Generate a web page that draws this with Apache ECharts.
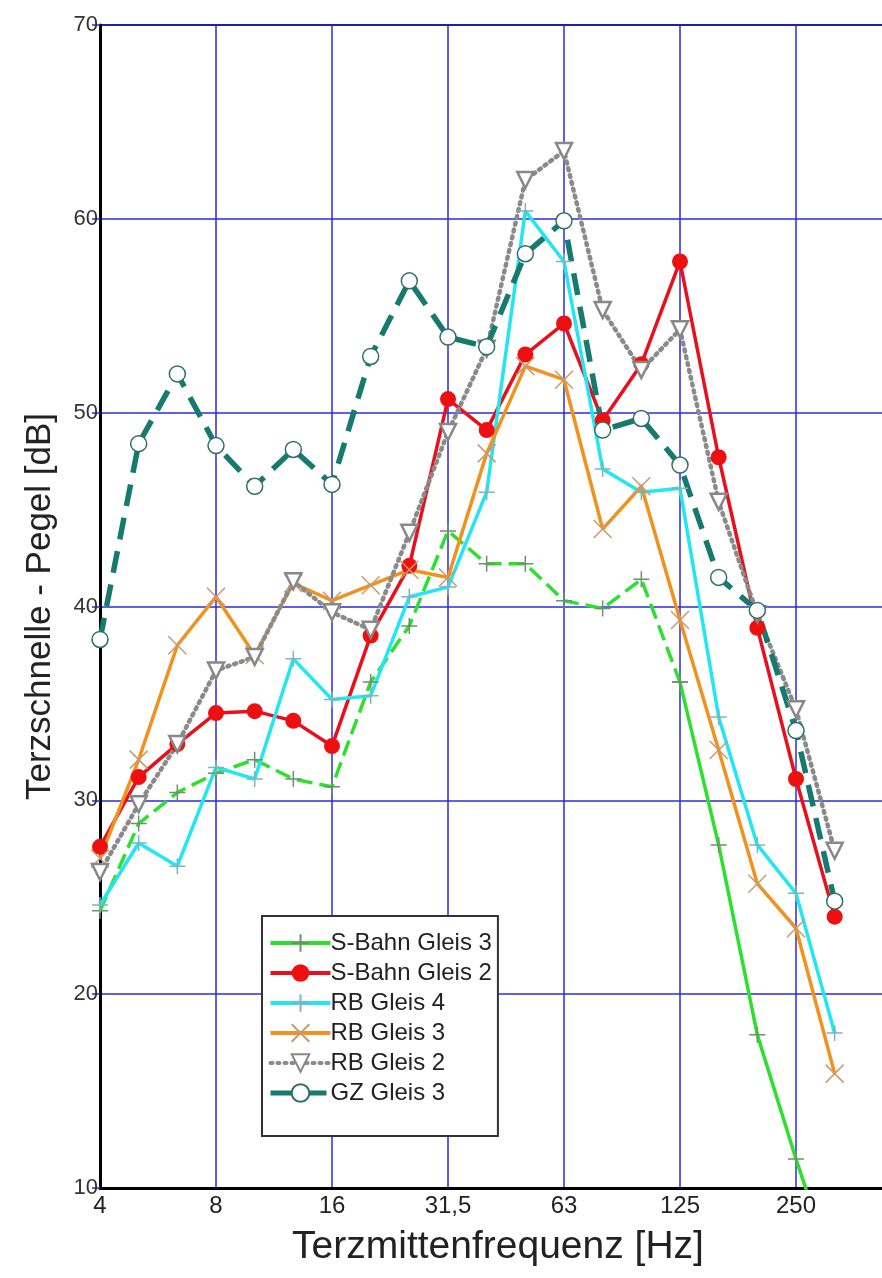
<!DOCTYPE html>
<html>
<head>
<meta charset="utf-8">
<script src="https://cdn.jsdelivr.net/npm/echarts@6/dist/echarts.min.js"></script>
<style>
  html, body { margin: 0; padding: 0; background: #fff; overflow: hidden; }
  /* the plot frame runs on past the right edge of the page */
  #chart { width: 940px; height: 1278px; }
</style>
</head>
<body>
<div id="chart"></div>
<script>
// Third-octave band centre frequencies (index 0 = 4 Hz)
const bands = ['4', '5', '6,3', '8', '10', '12,5', '16', '20', '25', '31,5',
               '40', '50', '63', '80', '100', '125', '160', '200', '250', '315'];
// Labelled octave ticks on the frequency axis (every third band)
const tickLabels = ['4', '8', '16', '31,5', '63', '125', '250'];

// Velocity levels per band [dB]
const sBahnGleis3 = [24.3, 28.8, 30.4, 31.4, 32.1, 31.1, 30.7, 36.1, 39.0, 43.9,
                     42.2, 42.2, 40.3, 39.9, 41.4, 36.1, 27.7, 17.9, 11.5, 5.5];
const sBahnGleis2 = [27.6, 31.2, 32.9, 34.5, 34.6, 34.1, 32.8, 38.5, 42.1, 50.7,
                     49.1, 53.0, 54.6, 49.6, 52.5, 57.8, 47.7, 38.9, 31.1, 24.0];
const rbGleis4    = [24.6, 27.8, 26.6, 31.7, 31.1, 37.3, 35.2, 35.4, 40.5, 41.0,
                     45.9, 60.4, 57.8, 47.1, 45.9, 46.1, 34.3, 27.7, 25.2, 18.0];
const rbGleis3    = [27.0, 32.1, 38.0, 40.5, 37.5, 41.2, 40.3, 41.1, 41.9, 41.5,
                     47.9, 52.4, 51.7, 44.0, 46.2, 39.3, 32.6, 25.7, 23.4, 15.9];
const rbGleis2    = [26.3, 29.8, 32.9, 36.7, 37.4, 41.3, 39.7, 38.8, 43.8, 49.0,
                     53.3, 62.0, 63.5, 55.3, 52.2, 54.3, 45.4, 39.6, 34.7, 27.4];
const gzGleis3    = [38.3, 48.4, 52.0, 48.3, 46.2, 48.1, 46.3, 52.9, 56.8, 53.9,
                     53.4, 58.2, 59.9, 49.1, 49.7, 47.3, 41.5, 39.8, 33.6, 24.8];

const seriesNames = ['S-Bahn Gleis 3', 'S-Bahn Gleis 2', 'RB Gleis 4',
                     'RB Gleis 3', 'RB Gleis 2', 'GZ Gleis 3'];

// band index -> [x, y] pairs on the value axis
const pts = arr => arr.map((v, i) => [i, v]);

const PLUS = 'path://M5,0 L5,10 M0,5 L10,5';
const CROSS = 'path://M0,0 L10,10 M10,0 L0,10';

const GRID_BLUE = '#2a2ae0';
const FONT = "'Liberation Sans', Arial, Helvetica, sans-serif";

// S-Bahn Gleis 3 is dashed through the mid range, solid on the steep high-frequency fall-off
const greenSplit = 15;
const greenHead = pts(sBahnGleis3).slice(0, greenSplit + 1);
const greenTail = pts(sBahnGleis3).slice(greenSplit);

const chart = echarts.init(document.getElementById('chart'), null, { renderer: 'canvas' });

chart.setOption({
  animation: false,
  backgroundColor: '#ffffff',
  grid: {
    left: 100, top: 25, width: 812, height: 1163,
    show: true, borderColor: '#000', borderWidth: 2, backgroundColor: 'transparent'
  },
  xAxis: [{
    type: 'value', min: 0, max: 21, interval: 3,
    position: 'bottom',
    axisLine: { show: true, onZero: false, lineStyle: { color: '#000', width: 3 } },
    axisTick: { show: false },
    splitLine: { show: true, lineStyle: { color: GRID_BLUE, width: 1.5 } },
    axisLabel: {
      margin: 6, fontSize: 24, color: '#222', fontFamily: FONT,
      showMaxLabel: false,
      formatter: v => (v % 3 === 0 && v / 3 < tickLabels.length) ? tickLabels[v / 3] : ''
    },
    name: 'Terzmittenfrequenz [Hz]',
    nameLocation: 'middle', nameGap: 40,
    nameTextStyle: { fontSize: 39, color: '#222', fontFamily: FONT, padding: [0, 16, 0, 0] }
  }],
  yAxis: [{
    type: 'value', min: 10, max: 70, interval: 10,
    axisLine: { show: true, onZero: false, lineStyle: { color: '#000', width: 3 } },
    axisTick: { show: true, length: 8, lineStyle: { color: GRID_BLUE, width: 1.5 } },
    splitLine: { show: true, lineStyle: { color: GRID_BLUE, width: 1.5 } },
    axisLabel: { margin: 2, fontSize: 22, color: '#333', fontFamily: FONT },
    name: 'Terzschnelle - Pegel [dB]',
    nameLocation: 'middle', nameGap: 42, nameRotate: 90,
    nameTextStyle: { fontSize: 35, color: '#222', fontFamily: FONT }
  }],
  legend: {
    orient: 'vertical',
    left: 262, top: 916,
    padding: [15, 6, 31, 6],
    itemWidth: 60, itemHeight: 22, itemGap: 6,
    backgroundColor: '#fff',
    borderColor: '#333', borderWidth: 2, borderRadius: 0,
    textStyle: { fontSize: 24, color: '#222', fontFamily: FONT, padding: [0, 0, 0, -5] },
    data: [
      { name: seriesNames[0], lineStyle: { type: 'solid', width: 4 } },
      { name: seriesNames[1], lineStyle: { width: 4 } },
      { name: seriesNames[2], lineStyle: { width: 4 } },
      { name: seriesNames[3], lineStyle: { width: 4 } },
      { name: seriesNames[4], lineStyle: { width: 4 } },
      { name: seriesNames[5], lineStyle: { width: 5 } }
    ]
  },
  series: [
    {
      name: seriesNames[0], type: 'line', data: greenHead,
      symbol: PLUS, symbolSize: 16,
      lineStyle: { color: '#2ee02e', width: 3.5, type: [16, 7] },
      itemStyle: { color: 'rgba(0,0,0,0)', borderColor: '#6f8f6f', borderWidth: 1.5 }
    },
    {
      name: seriesNames[0], type: 'line', data: greenTail,
      symbol: PLUS, symbolSize: 16,
      lineStyle: { color: '#2ee02e', width: 3.5, type: 'solid' },
      itemStyle: { color: 'rgba(0,0,0,0)', borderColor: '#6f8f6f', borderWidth: 1.5 }
    },
    {
      name: seriesNames[1], type: 'line', data: pts(sBahnGleis2),
      symbol: 'circle', symbolSize: 16,
      lineStyle: { color: '#e8101c', width: 3.5 },
      itemStyle: { color: '#ee1010', borderColor: '#ee1010', borderWidth: 0 }
    },
    {
      name: seriesNames[2], type: 'line', data: pts(rbGleis4),
      symbol: PLUS, symbolSize: 16,
      lineStyle: { color: '#22e6f2', width: 3.5 },
      itemStyle: { color: 'rgba(0,0,0,0)', borderColor: '#7ab6bd', borderWidth: 1.5 }
    },
    {
      name: seriesNames[3], type: 'line', data: pts(rbGleis3),
      symbol: CROSS, symbolSize: 18,
      lineStyle: { color: '#f0921e', width: 3.5 },
      itemStyle: { color: 'rgba(0,0,0,0)', borderColor: '#c79a72', borderWidth: 1.5 }
    },
    {
      name: seriesNames[4], type: 'line', data: pts(rbGleis2),
      symbol: 'triangle', symbolRotate: 180, symbolSize: 16,
      lineStyle: { color: '#8a8a8a', width: 4.5, type: [2, 5], cap: 'round' },
      itemStyle: { color: '#ffffff', borderColor: '#888', borderWidth: 2.5 }
    },
    {
      name: seriesNames[5], type: 'line', data: pts(gzGleis3),
      symbol: 'circle', symbolSize: 16,
      lineStyle: { color: '#177a6f', width: 5.5, type: [22, 12] },
      itemStyle: { color: '#ffffff', borderColor: '#2f6f68', borderWidth: 1.5 }
    }
  ]
});
</script>
</body>
</html>
